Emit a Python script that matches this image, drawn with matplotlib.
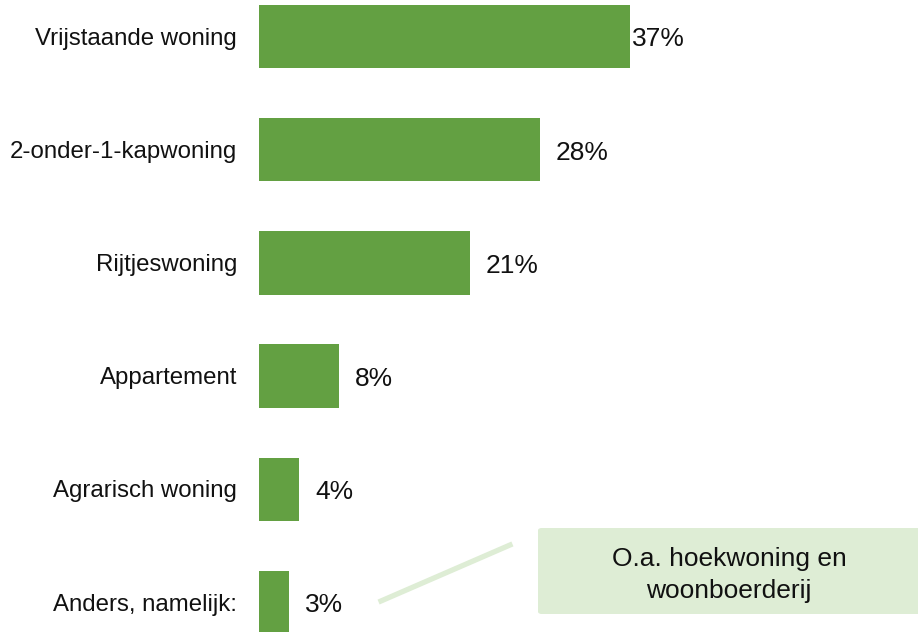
import matplotlib.pyplot as plt
from matplotlib.patches import FancyBboxPatch
from matplotlib.lines import Line2D

# data
categories = ['Vrijstaande woning', '2-onder-1-kapwoning', 'Rijtjeswoning',
              'Appartement', 'Agrarisch woning', 'Anders, namelijk:']
values = [37, 28, 21, 8, 4, 3]
note_text = 'O.a. hoekwoning en\nwoonboerderij'

plt.rcParams['font.family'] = ['Liberation Sans', 'DejaVu Sans']

W, H = 918, 632
fig = plt.figure(figsize=(W / 100, H / 100), dpi=100)

# axes span from the bar baseline to the right edge, full height
ax = fig.add_axes([259 / W, 0, 1 - 259 / W, 1])
px_per_pct = 10.03
ax.set_xlim(0, (W - 259) / px_per_pct)
step = 113.2
ax.set_ylim((H - 36.5) / step, -36.5 / step)

bar_color = '#63a042'
ypos = list(range(len(categories)))
ax.barh(ypos, values, height=0.56, color=bar_color)

for y, v in zip(ypos, values):
    pad = 2 if v == max(values) else 16
    ax.annotate(f'{v}%', (v, y), xytext=(pad * 0.72, -3 * 0.72), textcoords='offset points',
                va='center', ha='left', fontsize=19, color='#111111')

# category labels left of the baseline
for y, c in zip(ypos, categories):
    ax.annotate(c, (0, y), xytext=(-22 * 0.72, -2 * 0.72), textcoords='offset points',
                va='center', ha='right', fontsize=17.3, color='#111111',
                annotation_clip=False)

ax.set_yticks([])
ax.set_xticks([])
for s in ax.spines.values():
    s.set_visible(False)

# callout box and connector
note_color = '#deedd5'
box = FancyBboxPatch((538 / W, (H - 614) / H), (W - 538 + 10) / W, 86 / H,
                     boxstyle='round,pad=0,rounding_size=0.004',
                     transform=fig.transFigure, facecolor=note_color,
                     edgecolor='none')
fig.patches.append(box)
fig.text(729 / W, (H - 575) / H, note_text, ha='center', va='center',
         fontsize=19, color='#111111', linespacing=1.4)
fig.lines.append(Line2D([381 / W, 510 / W], [(H - 601) / H, (H - 545) / H],
                        transform=fig.transFigure, color=note_color, lw=3.8))

fig.savefig('out.png', dpi=100)
